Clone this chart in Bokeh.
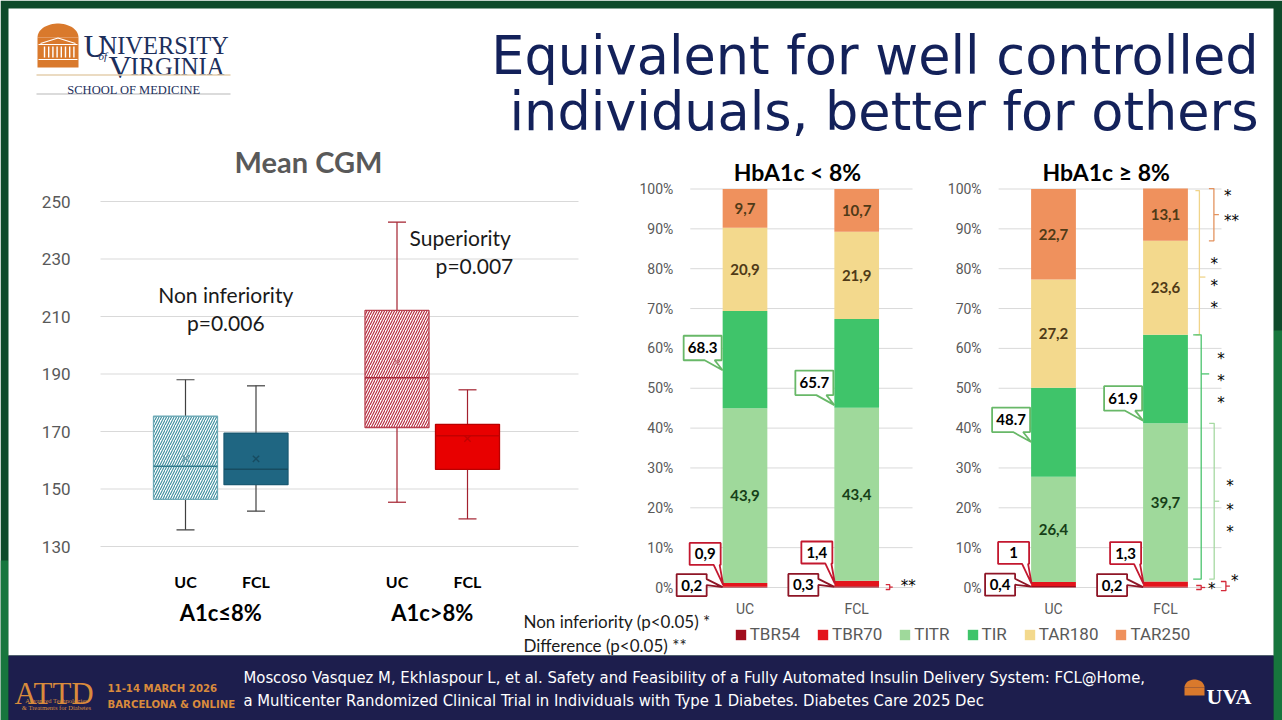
import numpy as np
from bokeh.plotting import figure
from bokeh.models import Range1d, Legend, LegendItem
from bokeh.core.properties import value
from bokeh.embed import file_html
from bokeh.resources import INLINE

# ------------------------------------------------------------------ data
slide_title = ["Equivalent for well controlled", "individuals, better for others"]

cgm_title = "Mean CGM"
cgm_ticks = [130, 150, 170, 190, 210, 230, 250]
cgm_groups = ["A1c≤8%", "A1c>8%"]
cgm_arms = ["UC", "FCL", "UC", "FCL"]
cgm_whisker_low = [135.8, 142.3, 145.4, 139.6]
cgm_q1 = [146.4, 151.5, 171.4, 156.8]
cgm_median = [157.9, 156.9, 188.7, 168.5]
cgm_q3 = [175.3, 169.4, 212.1, 172.5]
cgm_whisker_high = [188.0, 185.9, 242.8, 184.5]
cgm_mean = [160.6, 160.5, 194.1, 167.5]
cgm_tests = ["Non inferiority", "Superiority"]
cgm_pvalues = ["p=0.006", "p=0.007"]

tir_panels = ["HbA1c < 8%", "HbA1c ≥ 8%"]
tir_arms = ["UC", "FCL"]
pct_ticks = [0, 10, 20, 30, 40, 50, 60, 70, 80, 90, 100]
metric_names = ["TBR54", "TBR70", "TITR", "TIR", "TAR180", "TAR250"]
# [panel][arm]  (panel 0: HbA1c < 8%, panel 1: HbA1c >= 8%; arm 0: UC, arm 1: FCL)
tbr54 = [[0.2, 0.3], [0.4, 0.2]]
tbr70 = [[0.9, 1.4], [1.0, 1.3]]
titr = [[43.9, 43.4], [26.4, 39.7]]
tir = [[68.3, 65.7], [48.7, 61.9]]
tar180 = [[20.9, 21.9], [27.2, 23.6]]
tar250 = [[9.7, 10.7], [22.7, 13.1]]

notes = ["Non inferiority (p<0.05) *", "Difference (p<0.05) **"]
citation = ["Moscoso Vasquez M, Ekhlaspour L, et al. Safety and Feasibility of a Fully Automated Insulin Delivery System: FCL@Home,",
            "a Multicenter Randomized Clinical Trial in Individuals with Type 1 Diabetes. Diabetes Care 2025 Dec"]

# ------------------------------------------------------------------ canvas
W, H = 1282, 720
X0, Y0 = 0, 0

p = figure(width=W, height=H, x_range=Range1d(X0, X0 + W), y_range=Range1d(Y0 + H, Y0),
           output_backend="svg", toolbar_location=None, min_border=0,
           x_axis_location=None, y_axis_location=None,
           background_fill_color="white", border_fill_color="white")
p.grid.visible = False
p.outline_line_color = None


class Lin:
    """linear map between data values and page pixels (layout only)"""
    def __init__(self, v1, p1, v2, p2):
        self.k = (v2 - v1) / (p2 - p1)
        self.v1, self.p1 = v1, p1

    def at(self, px):
        return self.v1 + (px - self.p1) * self.k

    def d(self, dpx):
        return dpx * self.k

    def xrange(self):
        return Range1d(self.at(X0), self.at(X0 + W))

    def yrange(self):
        return Range1d(self.at(Y0 + H), self.at(Y0))


BX = Lin(0, 185, 4, 467)          # box plot categories
BY = Lin(250, 201, 130, 546)      # mg/dL
PY = Lin(0, 587, 100, 188.5)      # percent
TX = [Lin(0, 744.5, 1, 856.2), Lin(0, 1053, 1, 1165)]
p.extra_x_ranges = {"bx": BX.xrange(), "t0": TX[0].xrange(), "t1": TX[1].xrange()}
p.extra_y_ranges = {"by": BY.yrange(), "py": PY.yrange()}


def T(xs, ys, texts, size, color="#000000", font="Lato", style="normal",
      align="left", baseline="middle", **kw):
    p.text(x=list(xs), y=list(ys), text=list(texts), text_font=value(font),
           text_font_size=f"{size}px", text_font_style=style, text_color=color,
           text_align=align, text_baseline=baseline, **kw)


# ------------------------------------------------------------------ slide frame
p.quad(left=[0], right=[W], top=[0], bottom=[H], fill_color="#0e4a2a", line_color=None)
p.quad(left=[1273, 0], right=[W, 8], top=[330, 560], bottom=[H, H], fill_color="#17763d", line_color=None)
p.quad(left=[8], right=[1273], top=[8], bottom=[655], fill_color="white", line_color=None)
p.quad(left=[8], right=[1273], top=[655], bottom=[H], fill_color="#1d1e4d", line_color=None)

# ------------------------------------------------------------------ header
NAVY = "#13215a"
T([1258, 1258], [55, 111], slide_title, 52.5, color=NAVY, font="DejaVu Sans",
  align="right", baseline="alphabetic")

# rotunda logo
ORANGE = "#d9792c"
ang = np.linspace(0, np.pi, 30)
p.patch(x=list(57.5 + 20.5 * np.cos(ang)), y=list(37 - 14 * np.sin(ang)), fill_color=ORANGE, line_color=None)
p.quad(left=[37], right=[78], top=[37], bottom=[67], fill_color=ORANGE, line_color=None)
p.multi_line(xs=[[40, 57.5, 75], [38, 77], [38, 77]], ys=[[43, 37.5, 43], [44, 44], [59, 59]],
             line_color="white", line_width=1.2)
p.segment(x0=list(np.arange(44, 74, 4.2)), x1=list(np.arange(44, 74, 4.2)),
          y0=[46] * 8, y1=[57] * 8, line_color="white", line_width=1.4)
SERIF_NAVY = "#1c2f5c"
T([83], [45], ["U"], 32, color=SERIF_NAVY, font="Liberation Serif", baseline="alphabetic")
T([99], [45], ["NIVERSITY"], 24.5, color=SERIF_NAVY, font="Liberation Serif", baseline="alphabetic")
T([98], [55], ["of"], 11, color=SERIF_NAVY, font="Liberation Serif", style="italic", baseline="alphabetic")
T([108], [66], ["V"], 32, color=SERIF_NAVY, font="Liberation Serif", baseline="alphabetic")
T([130], [66], ["IRGINIA"], 24.5, color=SERIF_NAVY, font="Liberation Serif", baseline="alphabetic")
p.segment(x0=[36, 36], x1=[230, 230], y0=[74.5, 93.5], y1=[74.5, 93.5],
          line_color=["#e4cfae", "#cfcfcf"], line_width=1.3)
T([133.5], [89], ["SCHOOL OF MEDICINE"], 12.5, color=SERIF_NAVY, font="Liberation Serif",
  align="center", baseline="alphabetic")

# ------------------------------------------------------------------ box plot
kb = dict(x_range_name="bx", y_range_name="by")
bpos = [0, 1, 3, 4]
gl, gr = BX.at(100), BX.at(578)
p.segment(x0=[gl] * len(cgm_ticks), x1=[gr] * len(cgm_ticks), y0=cgm_ticks, y1=cgm_ticks,
          line_color="#d9d9d9", line_width=1, **kb)
T([gl + BX.d(-30)] * len(cgm_ticks), cgm_ticks, [str(t) for t in cgm_ticks], 17,
  color="#595959", font="Roboto", align="right", **kb)

box_styles = [
    dict(fill="white", hatch="right_diagonal_line", hcol="#3b8c9c", line="#6fa9b6", whisk="#404040", med="#2f7a8b", mean="#6b9fab"),
    dict(fill="#1f6682", hatch=None, hcol=None, line="#1a5a73", whisk="#404040", med="#174c61", mean="#174c61"),
    dict(fill="white", hatch="right_diagonal_line", hcol="#b3263a", line="#b8404f", whisk="#a3202e", med="#a8283a", mean="#c77580"),
    dict(fill="#e80000", hatch=None, hcol=None, line="#b90000", whisk="#a3202e", med="#c40000", mean="#c40000"),
]
hw = BX.d(32)
cap = BX.d(9)
for i, x in enumerate(bpos):
    s = box_styles[i]
    p.segment(x0=[x, x], x1=[x, x], y0=[cgm_q3[i], cgm_q1[i]],
              y1=[cgm_whisker_high[i], cgm_whisker_low[i]], line_color=s["whisk"], line_width=1.2, **kb)
    p.segment(x0=[x - cap] * 2, x1=[x + cap] * 2, y0=[cgm_whisker_high[i], cgm_whisker_low[i]],
              y1=[cgm_whisker_high[i], cgm_whisker_low[i]], line_color=s["whisk"], line_width=1.2, **kb)
    qkw = dict(fill_color=s["fill"], line_color=s["line"], line_width=1.3)
    if s["hatch"]:
        qkw.update(hatch_pattern=s["hatch"], hatch_color=s["hcol"], hatch_scale=5, hatch_weight=1.1)
    p.quad(left=[x - hw], right=[x + hw], bottom=[cgm_q1[i]], top=[cgm_q3[i]], **qkw, **kb)
    p.segment(x0=[x - hw], x1=[x + hw], y0=[cgm_median[i]], y1=[cgm_median[i]],
              line_color=s["med"], line_width=1.5, **kb)
    p.scatter(x=[x], y=[cgm_mean[i]], marker="x", size=9, line_color=s["mean"], line_width=1.4, **kb)

bottom = cgm_ticks[0]
top = cgm_ticks[-1]
T(bpos, [bottom + BY.d(35)] * 4, cgm_arms, 16, style="bold", align="center", **kb)
T([0.5, 3.5], [bottom + BY.d(66)] * 2, cgm_groups, 22, style="bold", align="center", **kb)
T([BX.at(308)], [top + BY.d(-40)], [cgm_title], 29, color="#595959", style="bold", align="center", **kb)
T([0.5 + BX.d(5), 0.5 + BX.d(5)], [top + BY.d(93), top + BY.d(121)],
  [cgm_tests[0], cgm_pvalues[0]], 21, color="#1a1a1a", align="center", **kb)
T([3.5 + BX.d(28)], [top + BY.d(36)], [cgm_tests[1]], 21, color="#1a1a1a", align="center", **kb)
T([3.5 + BX.d(81)], [top + BY.d(64)], [cgm_pvalues[1]], 21, color="#1a1a1a", align="right", **kb)

# ------------------------------------------------------------------ stacked TIR bars
seg_colors = ["#a10d1d", "#e3141c", "#9fd99b", "#3fc46a", "#f3d98d", "#ef915d"]
lab_colors = {2: "#163f18", 4: "#4f3a17", 5: "#4f3a17"}
bar_w = 0.4
legend_items = []

tir_callout_frac = [0.39, 0.03]   # where the TIR pointer hits the TIR segment (UC, FCL)

stars = [
    [("**", 1.25, 21.7)],
    [("*", 98.9, 36), ("**", 92.8, 36), ("*", 82.0, 22.6), ("*", 76.3, 22.6), ("*", 70.9, 22.6),
     ("*", 58.0, 29.3), ("*", 52.5, 29.3), ("*", 47.0, 29.3), ("*", 26.1, 38.3), ("*", 20.1, 38.3),
     ("*", 14.8, 38.3), ("*", 0.3, 20), ("*", 2.3, 43)],
]

for pi in range(2):
    kp = dict(x_range_name=f"t{pi}", y_range_name="py")
    tx = TX[pi]
    gl, gr = -0.49, 1.5
    p.segment(x0=[gl] * len(pct_ticks), x1=[gr] * len(pct_ticks), y0=pct_ticks, y1=pct_ticks,
              line_color="#d9d9d9", line_width=1, **kp)
    T([gl + tx.d(-17)] * len(pct_ticks), pct_ticks, [f"{t}%" for t in pct_ticks], 14,
      color="#595959", font="Roboto", align="right", **kp)

    segs = [[tbr54[pi][a], tbr70[pi][a], titr[pi][a], tir[pi][a] - titr[pi][a],
             tar180[pi][a], tar250[pi][a]] for a in range(2)]
    cum = [np.cumsum([0] + sg) for sg in segs]
    for s in range(6):
        r = p.vbar(x=[0, 1], bottom=[cum[a][s] for a in range(2)], top=[cum[a][s + 1] for a in range(2)],
                   width=bar_w, fill_color=seg_colors[s], line_color=None, **kp)
        if pi == 0:
            legend_items.append(LegendItem(label=metric_names[s], renderers=[r]))
    for s in (2, 4, 5):
        T([0, 1], [(cum[a][s] + cum[a][s + 1]) / 2 for a in range(2)],
          [f"{segs[a][s]:g}".replace(".", ",") for a in range(2)], 15,
          color=lab_colors[s], style="bold", align="center", **kp)

    T([0, 1], [PY.d(21)] * 2, tir_arms, 14, color="#595959", font="Roboto", align="center", **kp)
    T([0.47], [100 + PY.d(-17.5)], [tir_panels[pi]], 23, style="bold", align="center", **kp)

    # callouts
    for a in range(2):
        left_edge = a - bar_w / 2
        callouts = [
            # (tip value, label, outline, polygon (page px rel. to tip), label centre)
            (cum[a][3] + tir_callout_frac[a] * segs[a][3], f"{tir[pi][a]:.1f}", "#68b868",
             [(-39, -34.5), (-1, -34.5), (-1, -10), (-8, -10), (0, 0), (-18, -10), (-39, -10)], (-20, -22.3)),
            (cum[a][1] + segs[a][1] / 2, f"{tbr70[pi][a]:g}".replace(".", ","), "#c3182f",
             [(-33, -42), (-2, -42), (-2, -20), (-3, -20), (0.5, 0), (-9, -20), (-33, -20)], (-17.5, -31)),
            (cum[a][0] + segs[a][0] / 2, f"{tbr54[pi][a]:g}".replace(".", ","), "#8e1526",
             [(-46, -13), (-16, -13), (-16, -8), (0, 0), (-16, -2), (-16, 9), (-46, 9)], (-31, -2)),
        ]
        for tipv, lab, col, poly, lc in callouts:
            px_ = [left_edge + tx.d(dx) for dx, dy in poly]
            py_ = [tipv + PY.d(dy) for dx, dy in poly]
            p.patch(x=px_, y=py_, fill_color="white", line_color=col, line_width=1.8, **kp)
            T([left_edge + tx.d(lc[0])], [tipv + PY.d(lc[1])], [lab], 15, style="bold", align="center", **kp)

    # significance brackets (FCL side)
    c = cum[1]
    if pi == 1:
        blist = [
            # (lo, hi, mid, x offset px from FCL bar edge, end tick px, mid tick px, colour)
            (c[5], c[6], None, 26, 5, 5, "#e3935f"),
            (c[4], c[6] - 0.5, 77.9, 11.5, 4, 6, "#f0d48a"),
            (c[2] + 0.6, c[4], 53.6, 13.3, 8, 8, "#4cc46e"),
            (c[2] + 0.6, c[3], None, 26.3, 5, 5, "#a6d9a2"),
            (-0.5, 0.5, None, 13.3, 5, 4, "#d42a3a"),
            (-0.8, c[2], None, 38, 5, 4, "#d42a3a"),
        ]
    else:
        blist = [(-0.5, c[1] + 0.4, None, 10.7, 4, 3, "#d42a3a")]
    edge = 1 + bar_w / 2
    for lo, hi, mid, xo, tl, tm, col in blist:
        mid = (lo + hi) / 2 if mid is None else mid
        xb = edge + tx.d(xo)
        p.multi_line(xs=[[xb - tx.d(tl), xb, xb, xb - tx.d(tl)], [xb, xb + tx.d(tm)]],
                     ys=[[hi, hi, lo, lo], [mid, mid]], line_color=col, line_width=1.3, **kp)
    st = stars[pi]
    T([edge + tx.d(s[2]) for s in st], [s[1] + PY.d(3) for s in st], [s[0] for s in st], 15,
      font="DejaVu Sans", **kp)

# notes + legend
T([523, 523], [621, 645], notes, 17, color="#1a1a1a")
legend = Legend(items=legend_items, orientation="horizontal", location=(733.7, 76),
                glyph_width=13, glyph_height=13, label_height=13, label_standoff=3, spacing=16,
                padding=0, margin=0, border_line_color=None, background_fill_alpha=0,
                label_text_font="Roboto", label_text_font_size="17px", label_text_color="#595959")
p.add_layout(legend)

# ------------------------------------------------------------------ footer
FOOT_OR = "#d98b3c"
COND = "DejaVu Sans Condensed"
T([14], [693], ["ATTD"], 31, color=FOOT_OR, font="Liberation Serif", baseline="alphabetic")
T([56, 56], [700, 707], ["Advanced Technologies", "& Treatments for Diabetes"], 6.5, color=FOOT_OR,
  font="Liberation Serif", align="center")
T([107, 107], [688, 704], ["11-14 MARCH 2026", "BARCELONA & ONLINE"], 11.3, color=FOOT_OR,
  font=COND, style="bold")
T([243, 243], [677, 700], citation, 16.5, color="white", font=COND)
ang2 = np.linspace(0, np.pi, 20)
p.patch(x=list(1194 + 10 * np.cos(ang2)), y=list(687 - 8 * np.sin(ang2)), fill_color=ORANGE, line_color=None)
p.quad(left=[1184], right=[1204], top=[687], bottom=[695], fill_color=ORANGE, line_color=None)
T([1206], [695.5], ["UVA"], 22, color="white", font="Liberation Serif", style="bold", baseline="alphabetic")

open("out.html", "w").write(file_html(p, INLINE))
